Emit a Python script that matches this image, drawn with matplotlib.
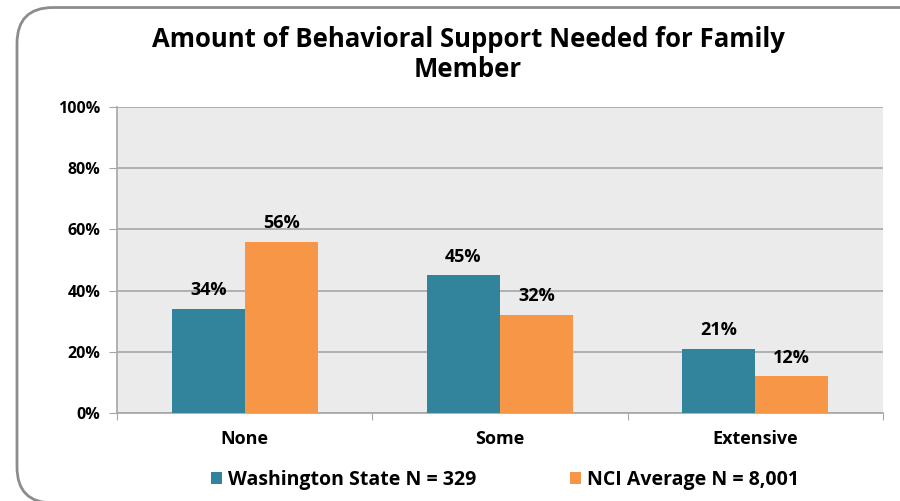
import matplotlib.pyplot as plt
import numpy as np
from matplotlib.patches import FancyBboxPatch

categories = ['None', 'Some', 'Extensive']
washington = [34, 45, 21]
nci = [56, 32, 12]
series_labels = ['Washington State N = 329', 'NCI Average N = 8,001']
yticks = [0, 20, 40, 60, 80, 100]

teal = '#31849B'
orange = '#F79646'

plt.rcParams['font.family'] = ['Open Sans', 'DejaVu Sans']
plt.rcParams['font.weight'] = 'bold'

fig = plt.figure(figsize=(9, 5.01), dpi=100)

# rounded outer frame, kept behind the axes; bottom edge falls just off the image
frame = FancyBboxPatch((17 / 900, -0.004), 1.2, 0.989, transform=fig.transFigure,
                       boxstyle='round,pad=0,rounding_size=0.04',
                       facecolor='white', edgecolor='#8C8C8C', linewidth=2,
                       mutation_aspect=900 / 501, zorder=-1)
fig.patches.append(frame)

ax = fig.add_axes([117 / 900, 1 - 413 / 501, 766 / 900, 306 / 501])
ax.set_facecolor('#EBEBEB')

x = np.arange(len(categories))
width = 0.286
b1 = ax.bar(x - width / 2, washington, width, color=teal, label=series_labels[0], zorder=3)
b2 = ax.bar(x + width / 2, nci, width, color=orange, label=series_labels[1], zorder=3)

for bars, vals in ((b1, washington), (b2, nci)):
    for bar, v in zip(bars, vals):
        ax.annotate(f'{v}%', (bar.get_x() + bar.get_width() / 2, v),
                    xytext=(0, 7), textcoords='offset points',
                    ha='center', va='bottom', fontsize=13, fontweight='bold')

ax.set_ylim(0, 100)
ax.set_xlim(-0.5, 2.5)
ax.set_yticks(yticks)
ax.set_yticklabels([f'{t}%' for t in yticks], fontsize=11.5, fontweight='bold')
ax.yaxis.grid(True, color='#A6A6A6', linewidth=1.2, zorder=0)
ax.set_axisbelow(True)

ax.set_xticks([-0.5, 0.5, 1.5, 2.5])
ax.set_xticklabels([])
ax.set_xticks(x, minor=True)
ax.set_xticklabels(categories, minor=True, fontsize=13, fontweight='bold')
ax.tick_params(axis='x', which='minor', length=0, pad=12)
ax.tick_params(axis='x', which='major', length=5, color='#A6A6A6')
ax.tick_params(axis='y', length=6, color='#A6A6A6', pad=6)

for side in ('top', 'right'):
    ax.spines[side].set_visible(False)
for side in ('left', 'bottom'):
    ax.spines[side].set_color('#A6A6A6')
    ax.spines[side].set_linewidth(1.2)

fig.text(0.52, 1 - 26 / 501, 'Amount of Behavioral Support Needed for Family\nMember',
         ha='center', va='top', fontsize=18.5, fontweight='bold', linespacing=1.15)

fig.legend(handles=[b1, b2], labels=series_labels, loc='center',
           bbox_to_anchor=(505 / 900, 1 - 480 / 501), ncol=2, frameon=False,
           prop={'size': 14, 'weight': 'bold'}, handlelength=0.6, handleheight=0.6,
           handletextpad=0.3, columnspacing=4.8)

fig.savefig('out.png', dpi=100)
